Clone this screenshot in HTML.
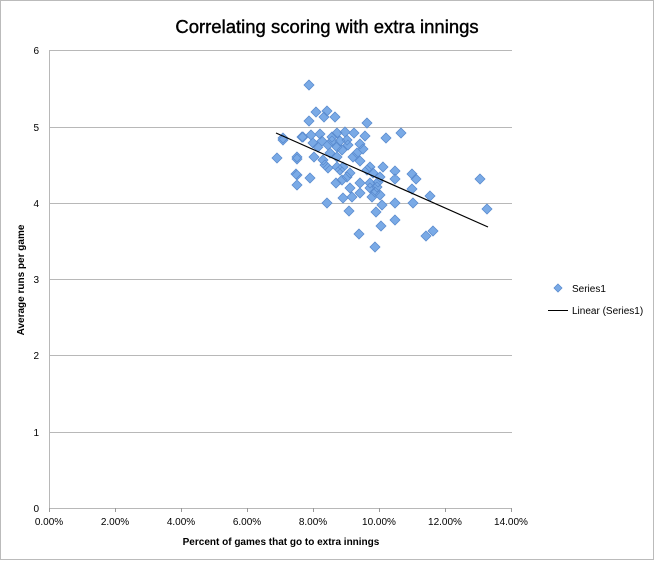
<!DOCTYPE html>
<html><head><meta charset="utf-8"><style>
body{margin:0;background:#fff}
svg{display:block}
text{font-family:"Liberation Sans",sans-serif;fill:#000}
</style></head><body>
<svg width="655" height="561" viewBox="0 0 655 561">
<rect x="0.5" y="0.5" width="653" height="559" fill="#fff" stroke="#bbb"/>
<text x="327" y="33" font-size="18.5" text-anchor="middle" stroke="#000" stroke-width="0.4">Correlating scoring with extra innings</text>
<g stroke="#b8b8b8" stroke-width="1">
<line x1="49" y1="50.5" x2="512" y2="50.5"/>
<line x1="49" y1="127.5" x2="512" y2="127.5"/>
<line x1="49" y1="203.5" x2="512" y2="203.5"/>
<line x1="49" y1="279.5" x2="512" y2="279.5"/>
<line x1="49" y1="355.5" x2="512" y2="355.5"/>
<line x1="49" y1="432.5" x2="512" y2="432.5"/>
<line x1="49" y1="508.5" x2="512" y2="508.5"/>
<line x1="49.5" y1="50" x2="49.5" y2="508"/>
</g>
<g stroke="#999"><line x1="49.5" y1="508" x2="49.5" y2="512"/><line x1="115.5" y1="508" x2="115.5" y2="512"/><line x1="181.5" y1="508" x2="181.5" y2="512"/><line x1="247.5" y1="508" x2="247.5" y2="512"/><line x1="313.5" y1="508" x2="313.5" y2="512"/><line x1="379.5" y1="508" x2="379.5" y2="512"/><line x1="445.5" y1="508" x2="445.5" y2="512"/><line x1="511.5" y1="508" x2="511.5" y2="512"/></g>
<g font-size="10" text-anchor="end">
<text x="39" y="54">6</text><text x="39" y="131">5</text><text x="39" y="207">4</text><text x="39" y="283">3</text><text x="39" y="359">2</text><text x="39" y="436">1</text><text x="39" y="512">0</text>
</g>
<g font-size="10" text-anchor="middle">
<text x="49" y="525">0.00%</text><text x="115" y="525">2.00%</text><text x="181" y="525">4.00%</text><text x="247" y="525">6.00%</text><text x="313" y="525">8.00%</text><text x="379" y="525">10.00%</text><text x="445" y="525">12.00%</text><text x="511" y="525">14.00%</text>
</g>
<text x="281" y="545" font-size="10" font-weight="bold" text-anchor="middle">Percent of games that go to extra innings</text>
<text transform="translate(24,280) rotate(-90)" font-size="10" font-weight="bold" text-anchor="middle">Average runs per game</text>
<g fill="#7aaae6" stroke="#5b8ccf" stroke-width="0.8">
<path d="M309 80l5 5-5 5-5-5zM316 107l5 5-5 5-5-5zM327 106l5 5-5 5-5-5zM324 112l5 5-5 5-5-5zM335 112l5 5-5 5-5-5zM309 116l5 5-5 5-5-5zM367 118l5 5-5 5-5-5zM401 128l5 5-5 5-5-5zM386 133l5 5-5 5-5-5zM283 135l5 5-5 5-5-5zM302 132l5 5-5 5-5-5zM311 130l5 5-5 5-5-5zM320 129l5 5-5 5-5-5zM337 128l5 5-5 5-5-5zM345 127l5 5-5 5-5-5zM354 128l5 5-5 5-5-5zM365 131l5 5-5 5-5-5zM313 138l5 5-5 5-5-5zM322 136l5 5-5 5-5-5zM332 136l5 5-5 5-5-5zM340 136l5 5-5 5-5-5zM347 135l5 5-5 5-5-5zM318 142l5 5-5 5-5-5zM328 140l5 5-5 5-5-5zM337 142l5 5-5 5-5-5zM348 140l5 5-5 5-5-5zM360 139l5 5-5 5-5-5zM363 144l5 5-5 5-5-5zM357 148l5 5-5 5-5-5zM277 153l5 5-5 5-5-5zM297 152l5 5-5 5-5-5zM297 154l5 5-5 5-5-5zM314 152l5 5-5 5-5-5zM323 155l5 5-5 5-5-5zM330 148l5 5-5 5-5-5zM337 152l5 5-5 5-5-5zM353 152l5 5-5 5-5-5zM360 156l5 5-5 5-5-5zM325 160l5 5-5 5-5-5zM328 163l5 5-5 5-5-5zM337 162l5 5-5 5-5-5zM343 162l5 5-5 5-5-5zM370 162l5 5-5 5-5-5zM383 162l5 5-5 5-5-5zM395 166l5 5-5 5-5-5zM412 169l5 5-5 5-5-5zM416 174l5 5-5 5-5-5zM395 174l5 5-5 5-5-5zM380 172l5 5-5 5-5-5zM373 168l5 5-5 5-5-5zM350 168l5 5-5 5-5-5zM347 172l5 5-5 5-5-5zM342 175l5 5-5 5-5-5zM336 178l5 5-5 5-5-5zM297 170l5 5-5 5-5-5zM310 173l5 5-5 5-5-5zM480 174l5 5-5 5-5-5zM360 178l5 5-5 5-5-5zM370 178l5 5-5 5-5-5zM378 177l5 5-5 5-5-5zM350 183l5 5-5 5-5-5zM360 188l5 5-5 5-5-5zM370 183l5 5-5 5-5-5zM377 182l5 5-5 5-5-5zM412 184l5 5-5 5-5-5zM430 191l5 5-5 5-5-5zM343 193l5 5-5 5-5-5zM352 192l5 5-5 5-5-5zM372 192l5 5-5 5-5-5zM380 190l5 5-5 5-5-5zM327 198l5 5-5 5-5-5zM395 198l5 5-5 5-5-5zM413 198l5 5-5 5-5-5zM382 200l5 5-5 5-5-5zM349 206l5 5-5 5-5-5zM376 207l5 5-5 5-5-5zM487 204l5 5-5 5-5-5zM395 215l5 5-5 5-5-5zM381 221l5 5-5 5-5-5zM359 229l5 5-5 5-5-5zM426 231l5 5-5 5-5-5zM433 226l5 5-5 5-5-5zM375 242l5 5-5 5-5-5zM303 132l5 5-5 5-5-5zM332 132l5 5-5 5-5-5zM342 145l5 5-5 5-5-5zM367 165l5 5-5 5-5-5zM375 187l5 5-5 5-5-5zM340 165l5 5-5 5-5-5zM283 133l5 5-5 5-5-5zM296 169l5 5-5 5-5-5zM297 180l5 5-5 5-5-5z"/>
</g>
<line x1="276" y1="133" x2="488" y2="227" stroke="#000" stroke-width="1.2"/>
<path d="M558 284l4 4-4 4-4-4z" fill="#7aaae6" stroke="#5b8ccf" stroke-width="0.8"/>
<text x="572" y="292" font-size="10">Series1</text>
<line x1="548" y1="310.5" x2="568" y2="310.5" stroke="#000"/>
<text x="572" y="314" font-size="10">Linear (Series1)</text>
</svg>
</body></html>
